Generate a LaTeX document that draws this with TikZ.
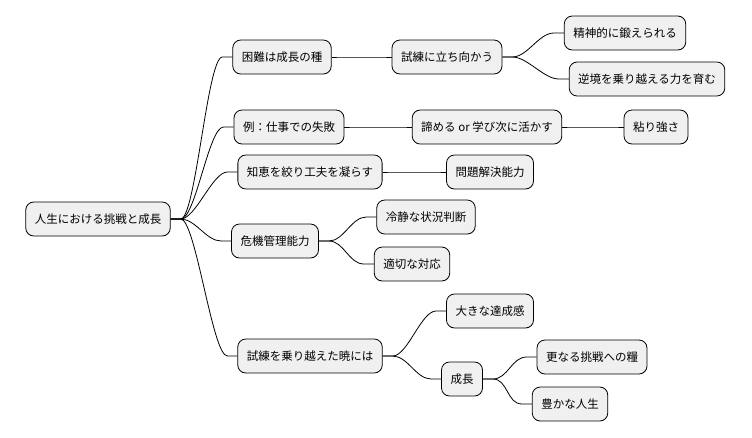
\documentclass[tikz,border=0pt]{standalone}
\usepackage{fontspec}
\newfontfamily\jpfont{Noto Sans CJK JP}
\usepackage{tikz}

\begin{document}
\begin{tikzpicture}[x=1pt,y=-1pt]
\tikzset{topic/.style={draw=black,line width=0.8pt,fill=black!6,rounded corners=8pt,
  minimum height=34pt,inner xsep=9pt,font=\jpfont\fontsize{11.5pt}{13pt}\selectfont}}
\useasboundingbox (0,0) rectangle (752,437);
\node [topic] (root) at (98,219) {人生における挑戦と成長};
\node [topic] (seed) at (282,57) {困難は成長の種};
\node [topic] (face) at (447,57) {試練に立ち向かう};
\node [topic] (mind) at (625,33) {精神的に鍛えられる};
\node [topic] (power) at (647,79) {逆境を乗り越える力を育む};
\node [topic] (fail) at (289,127) {例：仕事での失敗};
\node [topic] (learn) at (487,127) {諦める or 学び次に活かす};
\node [topic] (grit) at (656,127) {粘り強さ};
\node [topic] (wisdom) at (310,172) {知恵を絞り工夫を凝らす};
\node [topic] (solve) at (490,172) {問題解決能力};
\node [topic] (crisis) at (275,241) {危機管理能力};
\node [topic] (calm) at (426,217) {冷静な状況判断};
\node [topic] (act) at (412,264) {適切な対応};
\node [topic] (over) at (310,356) {試練を乗り越えた暁には};
\node [topic] (done) at (490,311) {大きな達成感};
\node [topic] (grow) at (462,379) {成長};
\node [topic] (food) at (592,357) {更なる挑戦への糧};
\node [topic] (rich) at (570,404) {豊かな人生};
\foreach \a/\b in {root/seed,root/fail,root/wisdom,root/crisis,root/over,
  seed/face,face/mind,face/power,fail/learn,learn/grit,wisdom/solve,
  crisis/calm,crisis/act,over/done,over/grow,grow/food,grow/rich}
  \draw [line width=0.8pt] (\a.east) -- ++(10,0) .. controls +(15,0) and +(-15,0) .. ([xshift=-10pt]\b.west) -- (\b.west);
\end{tikzpicture}
\end{document}
